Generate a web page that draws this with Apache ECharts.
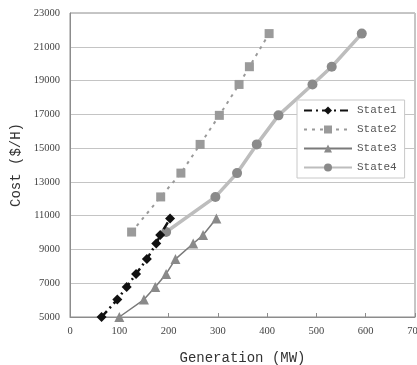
<!DOCTYPE html>
<html><head><meta charset="utf-8">
<script src="https://cdn.jsdelivr.net/npm/echarts@6/dist/echarts.min.js"></script>
<style>html,body{margin:0;padding:0;background:#fff}#c{width:417px;height:365px}</style>
</head><body><div id="c"></div>
<script>
const costLow = [5000, 6030, 6780, 7550, 8430, 9350, 9850, 10830];
const costHigh = [10030, 12110, 13520, 15220, 16940, 18770, 19820, 21780];
const genState1 = [64, 96, 115, 134, 156, 175, 183, 203];
const genState3 = [100, 150, 173, 195, 214, 250, 270, 297];
const genState2 = [125, 184, 225, 264, 303, 343, 364, 404];
const genState4 = [195, 295, 339, 379, 423, 492, 531, 592];
const seriesNames = ['State1', 'State2', 'State3', 'State4'];

const pairs = (xs, ys) => xs.map((x, i) => [x, ys[i]]);
const serif = 'Liberation Serif';
const mono = 'Liberation Mono';

const chart = echarts.init(document.getElementById('c'), null, {renderer: 'canvas'});
chart.setOption({
  animation: false,
  backgroundColor: '#fff',
  grid: {left: 70, right: 2, top: 13, bottom: 48, show: true, borderColor: '#8c8c8c', borderWidth: 1,
         containLabel: false, outerBoundsMode: 'none'},
  legend: {
    orient: 'vertical', left: 297, top: 100, width: 108,
    backgroundColor: '#fff', borderColor: '#c8c8c8', borderWidth: 1,
    padding: [5, 8, 5, 6], itemGap: 8, itemWidth: 48, itemHeight: 10,
    textStyle: {fontFamily: mono, fontSize: 11, color: '#555'},
    data: seriesNames
  },
  xAxis: {
    type: 'value', min: 0, max: 700, interval: 100,
    name: 'Generation (MW)', nameLocation: 'middle', nameGap: 34,
    nameTextStyle: {fontFamily: mono, fontSize: 14, color: '#333'},
    axisLine: {show: true, lineStyle: {color: '#8c8c8c'}},
    axisTick: {show: true, inside: true, length: 4, lineStyle: {color: '#8c8c8c'}},
    axisLabel: {fontFamily: serif, fontSize: 10.5, color: '#444', margin: 9, hideOverlap: false},
    splitLine: {show: false}
  },
  yAxis: {
    type: 'value', min: 5000, max: 23000, interval: 2000,
    name: 'Cost ($/H)', nameLocation: 'middle', nameGap: 46,
    nameTextStyle: {fontFamily: mono, fontSize: 14, color: '#333'},
    axisLine: {show: true, lineStyle: {color: '#8c8c8c'}},
    axisTick: {show: false},
    axisLabel: {fontFamily: serif, fontSize: 10.5, color: '#444', margin: 10, formatter: v => String(v)},
    splitLine: {show: true, lineStyle: {color: '#c4c4c4', width: 1}}
  },
  series: [
    {name: seriesNames[0], type: 'line', data: pairs(genState1, costLow), z: 5,
     symbol: 'diamond', symbolSize: 10,
     itemStyle: {color: '#111'},
     lineStyle: {color: '#111', width: 2.5, type: [8, 4, 2, 4]}},
    {name: seriesNames[1], type: 'line', data: pairs(genState2, costHigh), z: 3,
     symbol: 'rect', symbolSize: 9,
     itemStyle: {color: '#9a9a9a'},
     lineStyle: {color: '#9a9a9a', width: 2, type: [3, 5]}},
    {name: seriesNames[2], type: 'line', data: pairs(genState3, costLow), z: 4,
     symbol: 'triangle', symbolSize: 10,
     itemStyle: {color: '#8a8a8a'},
     lineStyle: {color: '#7a7a7a', width: 1.5, type: 'solid'}},
    {name: seriesNames[3], type: 'line', data: pairs(genState4, costHigh), z: 2,
     symbol: 'circle', symbolSize: 10,
     itemStyle: {color: '#8a8a8a'},
     lineStyle: {color: '#bdbdbd', width: 3.5, type: 'solid'}}
  ]
});
</script></body></html>
